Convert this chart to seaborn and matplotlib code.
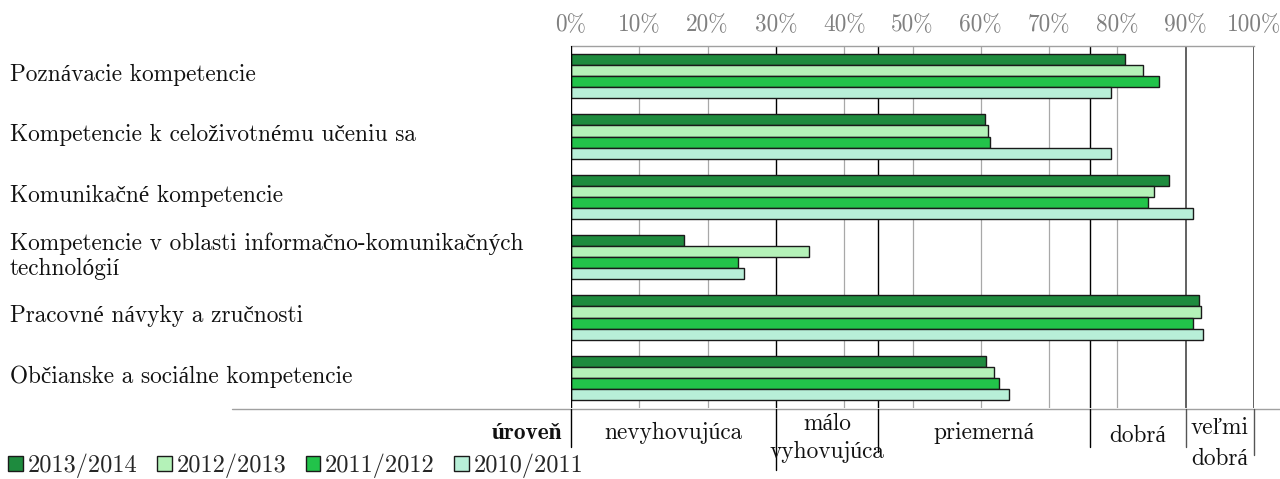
import matplotlib
matplotlib.use("Agg")
import matplotlib.pyplot as plt
import matplotlib.transforms as mtransforms
from matplotlib.lines import Line2D
from matplotlib.patches import Patch
import seaborn as sns
import pandas as pd

# --- data -------------------------------------------------------------
categories = [
    "Poznávacie kompetencie",
    "Kompetencie k celoživotnému učeniu sa",
    "Komunikačné kompetencie",
    "Kompetencie v oblasti informačno-komunikačných\ntechnológií",
    "Pracovné návyky a zručnosti",
    "Občianske a sociálne kompetencie",
]
years = ["2013/2014", "2012/2013", "2011/2012", "2010/2011"]
v_2013_2014 = [81.1, 60.6, 87.6, 16.6, 92.0, 60.7]
v_2012_2013 = [83.8, 61.0, 85.3, 34.8, 92.2, 62.0]
v_2011_2012 = [86.1, 61.3, 84.5, 24.5, 91.1, 62.6]
v_2010_2011 = [79.1, 79.1, 91.1, 25.3, 92.6, 64.2]
colors = ["#1e8b3e", "#b4f2b8", "#22c34a", "#b8efd8"]

ticks = list(range(0, 101, 10))
tick_labels = [f"{t}%" for t in ticks]

# performance levels (boundaries in %) and their names
level_bounds = [0, 30, 45, 76, 90, 100]
level_names = [["nevyhovujúca"], ["málo", "vyhovujúca"], ["priemerná"],
               ["dobrá"], ["veľmi", "dobrá"]]
level_title = "úroveň"

# --- long-form table for seaborn ---------------------------------------
series = [v_2013_2014, v_2012_2013, v_2011_2012, v_2010_2011]
rows = []
for yr, vals in zip(years, series):
    for cat, v in zip(categories, vals):
        rows.append({"kategoria": cat, "rok": yr, "hodnota": v})
df = pd.DataFrame(rows)

# --- style ---------------------------------------------------------------
sns.set_theme(style="white")
plt.rcParams["font.family"] = ["cmr10", "Liberation Serif"]
plt.rcParams["axes.unicode_minus"] = False
FS = 16.8

W, H = 1280, 479
fig = plt.figure(figsize=(W / 100, H / 100), dpi=100)
ax = fig.add_axes([571 / W, 1 - 408 / H, (1254 - 571) / W, (408 - 46) / H])

sns.barplot(
    data=df, y="kategoria", x="hodnota", hue="rok",
    order=categories, hue_order=years, palette=colors,
    orient="h", width=0.74, dodge=True, ax=ax,
    edgecolor="#1a1a1a", linewidth=1.0, saturation=1.0,
    errorbar=None, zorder=3,
)
if ax.get_legend() is not None:
    ax.get_legend().remove()

ax.set_xlim(0, 100)
ax.set_ylim(5.5, -0.5)
ax.set_xlabel("")
ax.set_ylabel("")
ax.set_yticks([])
ax.xaxis.tick_top()
ax.set_xticks(ticks)
ax.set_xticklabels(tick_labels, fontsize=FS, color="#808080")
ax.tick_params(axis="x", length=0, pad=7)

for s in ["left", "right", "bottom"]:
    ax.spines[s].set_visible(False)
ax.spines["top"].set_color("#a0a0a0")
ax.spines["top"].set_linewidth(1.0)

# grid lines: light every 10 %, strong at level boundaries
for t in ticks:
    if t in level_bounds:
        continue
    ax.axvline(t, color="#a8a8a8", lw=0.9, zorder=1)
for b in level_bounds:
    c = "#000000" if b < 90 else "#555555"
    lw = 1.0 if b < 90 else 1.3
    ax.axvline(b, color=c, lw=lw, zorder=1 if b else 4)

# category labels at the left edge of the figure
lab_tr = mtransforms.blended_transform_factory(fig.transFigure, ax.transData)
for i, cat in enumerate(categories):
    ax.text(10 / W, i - 0.02, cat, transform=lab_tr, ha="left", va="center",
            fontsize=FS, color="#111111", linespacing=1.15)

# bottom rule under the chart
fig.add_artist(Line2D([232 / W, 1.0], [1 - 409 / H, 1 - 409 / H],
                      color="#a0a0a0", lw=1.0, transform=fig.transFigure))

# level scale below the chart
lv_tr = mtransforms.blended_transform_factory(ax.transData, fig.transFigure)
sep_bottom = [447, 470, 452, 447, 447, 455]
for b, yb in zip(level_bounds, sep_bottom):
    c = "#000000" if b < 90 else "#555555"
    fig.add_artist(Line2D([b, b], [1 - 409 / H, 1 - yb / H], color=c, lw=1.0,
                          transform=lv_tr))

level_rows = [[433], [424, 452], [433], [436], [428, 459]]
for lo, hi, names, ys in zip(level_bounds[:-1], level_bounds[1:], level_names, level_rows):
    for name, yy in zip(names, ys):
        fig.text((lo + hi) / 2, 1 - yy / H, name, transform=lv_tr, ha="center",
                 va="center", fontsize=FS, color="#111111")
fig.text(562 / W, 1 - 433 / H, level_title, ha="right", va="center",
         fontsize=FS, fontweight="bold", color="#111111",
         family=["cmb10", "Liberation Serif"])

# legend along the bottom-left corner
handles = [Patch(facecolor=c, edgecolor="#1a1a1a", lw=1.0) for c in colors]
fig.legend(handles, years, loc="center left", bbox_to_anchor=(6 / W, 1 - 466 / H),
           ncol=4, frameon=False, fontsize=17.5, handlelength=0.6, handleheight=0.6,
           handletextpad=0.2, columnspacing=0.8, borderaxespad=0.0, borderpad=0.1)

fig.savefig("out.png", dpi=100)
